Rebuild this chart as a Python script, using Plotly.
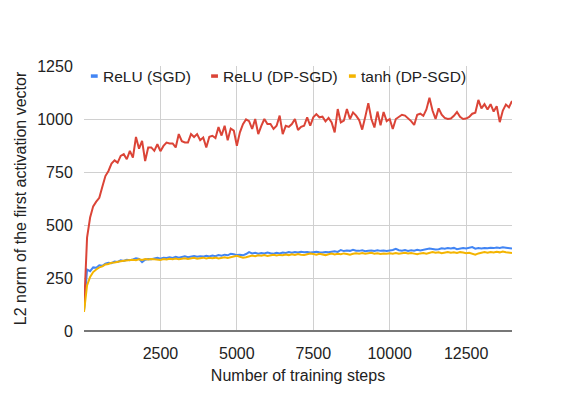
import plotly.graph_objects as go

# training steps, logged every 100 steps
steps = list(range(0, 14001, 100))

relu_sgd = [
    95, 290, 282, 300, 298, 310, 308, 318, 322, 320,
    328, 326, 333, 330, 336, 334, 338, 343, 340, 325,
    336, 340, 338, 342, 345, 341, 346, 344, 348, 345,
    350, 346, 349, 352, 348, 351, 354, 350, 353, 351,
    355, 352, 356, 353, 358, 355, 360, 357, 364, 362,
    358, 360, 357, 363, 372, 366, 369, 365, 368, 366,
    370, 367, 365, 369, 366, 370, 368, 372, 369, 373,
    370, 374, 371, 373, 370, 372, 374, 371, 370, 373,
    371, 374, 376, 373, 382, 377, 380, 378, 383, 379,
    378, 381, 376, 379, 380, 377, 381, 378, 380, 377,
    379, 382, 388, 381, 379, 382, 378, 381, 379, 383,
    380, 384, 386, 389, 387, 384, 386, 390, 388, 391,
    389, 392, 386, 390, 391, 389, 393, 396, 388, 391,
    389, 392, 390, 393, 391, 394, 392, 395, 393, 391,
    389,
]

relu_dpsgd = [
    100, 440, 535, 588, 610, 628, 680, 731, 755, 790,
    805, 794, 826, 834, 810, 850, 818, 915, 860, 897,
    802, 866, 866, 850, 881, 848, 873, 889, 885, 885,
    866, 929, 895, 889, 889, 929, 915, 929, 900, 913,
    866, 916, 921, 910, 962, 922, 968, 900, 955, 945,
    874, 937, 976, 998, 990, 953, 1000, 929, 968, 1000,
    976, 976, 953, 968, 1016, 929, 968, 963, 976, 1000,
    948, 963, 968, 1008, 968, 1008, 1023, 1008, 1011, 989,
    1005, 984, 937, 1047, 984, 992, 1047, 1000, 1031, 1016,
    995, 950, 1010, 1075, 1000, 960, 1035, 970, 1033, 990,
    1000, 953, 1000, 1010, 1020, 1016, 1005, 990, 972, 1020,
    1025, 1015, 1045, 1100, 1040, 1000, 1050, 1020, 1005, 1000,
    1002, 1015, 1033, 1010, 1000, 1002, 1010, 1025, 1030, 1090,
    1050, 1070, 1045, 1070, 1035, 1060, 985, 1040, 1068, 1055,
    1085,
]

tanh_dpsgd = [
    90, 215, 255, 278, 290, 300, 305, 314, 316, 322,
    323, 327, 329, 331, 333, 335, 336, 334, 338, 335,
    339, 337, 340, 338, 336, 335, 339, 337, 341, 339,
    342, 338, 341, 343, 340, 342, 345, 341, 343, 346,
    342, 345, 343, 346, 342, 345, 348, 344, 347, 350,
    355, 350, 346, 348, 352, 356, 353, 357, 355, 358,
    354, 357, 360, 356, 359, 357, 361, 358, 362, 359,
    363, 360, 358, 362, 365, 363, 360, 364, 361, 358,
    362, 365, 361, 364, 362, 366, 363, 360, 364, 367,
    365, 368, 364, 366, 369, 365, 367, 363, 366, 364,
    367, 365, 368, 364, 367, 369, 366, 368, 365, 362,
    366, 368, 365, 370, 372, 369, 371, 367, 370, 373,
    369, 371, 368, 372, 370, 367, 369, 364, 360, 366,
    370, 372, 369, 373, 370, 374, 371, 375, 372, 370,
    368,
]

names = ["ReLU (SGD)", "ReLU (DP-SGD)", "tanh (DP-SGD)"]
colors = ["#4285F4", "#DB4437", "#F4B400"]
x_ticks = [2500, 5000, 7500, 10000, 12500]
x_labels = ["2500", "5000", "7500", "10000", "12500"]
y_ticks = [0, 250, 500, 750, 1000, 1250]

FONT = "Liberation Sans, Arial, sans-serif"

fig = go.Figure()
for name, ys, col in zip(names, [relu_sgd, relu_dpsgd, tanh_dpsgd], colors):
    fig.add_trace(go.Scatter(
        x=steps, y=ys, name=name, mode="lines",
        line=dict(color=col, width=2),
        showlegend=False,
    ))

# legend drawn by hand to get the short google-sheets style swatches
legend_x = [0.016, 0.297, 0.619]
for name, col, lx in zip(names, colors, legend_x):
    fig.add_shape(type="line", xref="paper", yref="paper",
                  x0=lx, x1=lx + 0.016, y0=0.962, y1=0.962,
                  line=dict(color=col, width=3.5))
    fig.add_annotation(xref="paper", yref="paper", x=lx + 0.024, y=0.962,
                       text=name, showarrow=False, xanchor="left",
                       yanchor="middle",
                       font=dict(family=FONT, size=15.5, color="#222"))

# page body has an 8px margin, so margins are shifted by that much
fig.update_layout(
    width=563, height=405,
    margin=dict(l=76, r=59, t=58, b=82),
    paper_bgcolor="white", plot_bgcolor="white",
    font=dict(family=FONT, size=16, color="#222"),
)
fig.update_xaxes(
    range=[0, 14000], tickvals=x_ticks, ticktext=x_labels,
    showgrid=True, gridcolor="#d0d0d0", gridwidth=1,
    zeroline=False, showline=False,
    ticks="outside", ticklen=8, tickcolor="rgba(0,0,0,0)",
    title=dict(text="Number of training steps", standoff=8,
               font=dict(size=16)),
)
fig.update_yaxes(
    range=[0, 1250], tickvals=y_ticks,
    showgrid=True, gridcolor="#d0d0d0", gridwidth=1,
    zeroline=True, zerolinecolor="#777", zerolinewidth=1.5,
    ticks="outside", ticklen=7, tickcolor="rgba(0,0,0,0)",
    title=dict(text="L2 norm of the first activation vector", standoff=6,
               font=dict(size=16)),
)

fig.write_html("out.html")
